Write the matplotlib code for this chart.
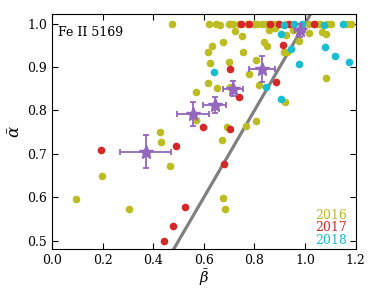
import numpy as np
import matplotlib
matplotlib.use("Agg")
import matplotlib.pyplot as plt

plt.rcParams['font.family'] = 'DejaVu Serif'
plt.rcParams['mathtext.fontset'] = 'dejavuserif'

# 2016 measurements
b16 = [0.095, 0.199, 0.305, 0.428, 0.432, 0.467, 0.474, 0.570, 0.570, 0.615,
       0.652, 0.702, 0.817, 0.692, 0.765, 0.806, 0.672, 0.677, 0.682, 0.619,
       0.650, 0.665, 0.698, 0.705, 0.717, 0.737, 0.771, 0.797, 0.811, 0.830,
       0.844, 0.876, 0.890, 0.923, 1.014, 1.048, 1.061, 1.088, 1.101, 1.167,
       1.180, 0.723, 0.749, 0.857, 0.883, 0.923, 0.952, 1.015, 1.068, 1.081,
       0.676, 0.634, 0.618, 0.754, 0.836, 0.851, 0.916, 0.929, 0.976, 0.626,
       0.698, 0.777, 0.807, 1.084, 0.922]
a16 = [0.597, 0.649, 0.573, 0.750, 0.728, 0.673, 1.000, 0.842, 0.778, 0.863,
       0.851, 0.855, 0.858, 0.761, 0.764, 0.775, 0.733, 0.599, 0.573, 1.000,
       1.000, 0.996, 0.998, 1.000, 1.000, 1.000, 1.000, 1.000, 1.000, 1.000,
       1.000, 0.998, 1.000, 1.000, 1.000, 1.000, 1.000, 1.000, 1.000, 1.000,
       1.000, 0.982, 0.972, 0.985, 0.989, 0.973, 0.985, 0.978, 0.980, 0.975,
       0.958, 0.948, 0.935, 0.935, 0.958, 0.948, 0.935, 0.935, 0.960, 0.910,
       0.911, 0.884, 0.916, 0.874, 0.820]

# 2017 measurements
b17 = [0.193, 0.444, 0.478, 0.524, 0.491, 0.595, 0.702, 0.681, 0.738, 0.702,
       0.887, 0.912, 0.745, 0.777, 0.861, 0.896, 0.936, 1.035]
a17 = [0.709, 0.499, 0.534, 0.577, 0.718, 0.762, 0.757, 0.676, 0.832, 0.895,
       0.866, 0.950, 1.000, 1.000, 1.000, 1.000, 1.000, 1.000]

# 2018 measurements
b18 = [0.639, 0.844, 0.903, 0.976, 0.946, 0.903, 0.916, 0.956, 0.989, 1.074,
       1.150, 1.079, 1.118, 1.173]
a18 = [0.888, 0.855, 0.826, 0.906, 0.942, 0.976, 0.997, 0.998, 1.000, 0.996,
       1.000, 0.946, 0.926, 0.911]

# binned averages
bm = [0.370, 0.557, 0.643, 0.716, 0.830, 0.979]
am = [0.705, 0.792, 0.812, 0.850, 0.895, 0.985]
bm_err = [0.100, 0.062, 0.046, 0.040, 0.053, 0.020]
am_err = [0.038, 0.027, 0.018, 0.017, 0.030, 0.015]

fig = plt.figure(figsize=(3.74, 2.88), dpi=100)
ax = fig.add_axes([0.139, 0.135, 0.812, 0.815])

line = np.array([0.0, 1.2])
ax.plot(line, line, color='gray', lw=2.3, zorder=1)

ax.scatter(b16, a16, s=20, color='#bcbd22', zorder=2)
ax.scatter(b17, a17, s=20, color='#d62728', zorder=2)
ax.scatter(b18, a18, s=20, color='#17becf', zorder=2)

ax.errorbar(bm, am, xerr=bm_err, yerr=am_err, fmt='*', color='#9467bd',
            ms=10, elinewidth=1.3, capsize=2, capthick=1.3, zorder=3)

ax.set_xlim(0, 1.2)
ax.set_ylim(0.481, 1.021)
ax.set_xticks([0.0, 0.2, 0.4, 0.6, 0.8, 1.0, 1.2])
ax.set_yticks([0.5, 0.6, 0.7, 0.8, 0.9, 1.0])
ax.tick_params(direction='in', top=True, right=True, labelsize=9, length=4)
ax.set_xlabel(r'$\bar{\beta}$', fontsize=10.5, labelpad=0)
ax.set_ylabel(r'$\bar{\alpha}$', fontsize=12, labelpad=2)

ax.text(0.02, 0.95, 'Fe II 5169', transform=ax.transAxes, fontsize=9,
        va='top', ha='left')
ax.text(0.972, 0.144, '2016', transform=ax.transAxes, color='#bcbd22',
        fontsize=9, ha='right', va='center')
ax.text(0.972, 0.090, '2017', transform=ax.transAxes, color='#d62728',
        fontsize=9, ha='right', va='center')
ax.text(0.972, 0.035, '2018', transform=ax.transAxes, color='#17becf',
        fontsize=9, ha='right', va='center')

fig.savefig('out.png', dpi=100)
